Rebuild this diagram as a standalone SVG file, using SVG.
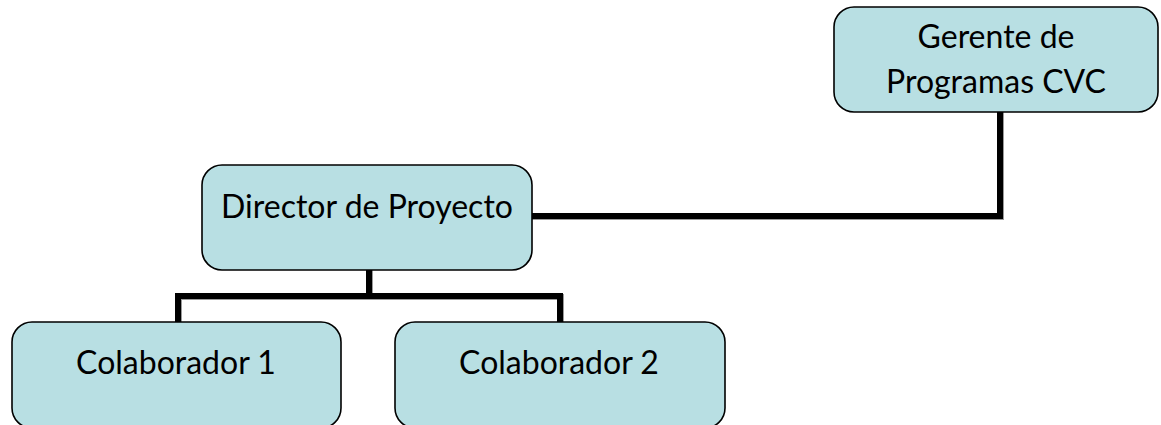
<svg xmlns="http://www.w3.org/2000/svg" width="1161" height="425" viewBox="0 0 1161 425">
  <style>
    .box { fill: #b8dfe3; stroke: #000; stroke-width: 1.6; }
    .lbl { font-family: Lato, "Open Sans", "Liberation Sans", sans-serif; font-size: 32px; fill: #000; text-anchor: middle; }
    .wire { fill: none; stroke: #000; stroke-width: 6; stroke-linejoin: miter; stroke-linecap: square; }
    .shadow { fill: none; stroke: #9a9a9a; stroke-width: 6; stroke-linejoin: miter; stroke-linecap: square; }
  </style>
  <rect width="1161" height="425" fill="#fff"/>

  <!-- org chart links -->
  <g id="connectors">
    <g transform="translate(1,1)">
      <path class="shadow" d="M532 216 H1000 V112"/>
      <path class="shadow" d="M369 270 V296 M178 322 V296 H560 V322"/>
    </g>
    <path class="wire" d="M532 216 H1000 V112"/>
    <path class="wire" d="M369 270 V296 M178 322 V296 H560 V322"/>
  </g>

  <g id="gerente">
    <rect class="box" x="834" y="7" width="324" height="105" rx="20"/>
    <text class="lbl" x="996" y="48">Gerente de</text>
    <text class="lbl" x="996" y="93">Programas CVC</text>
  </g>

  <g id="director">
    <rect class="box" x="202" y="165" width="330" height="105" rx="20"/>
    <text class="lbl" x="367" y="218">Director de Proyecto</text>
  </g>

  <g id="colaborador1">
    <rect class="box" x="12" y="322" width="329" height="106" rx="20"/>
    <text class="lbl" x="176" y="374">Colaborador 1</text>
  </g>

  <g id="colaborador2">
    <rect class="box" x="395" y="322" width="330" height="106" rx="20"/>
    <text class="lbl" x="559" y="374">Colaborador 2</text>
  </g>
</svg>
